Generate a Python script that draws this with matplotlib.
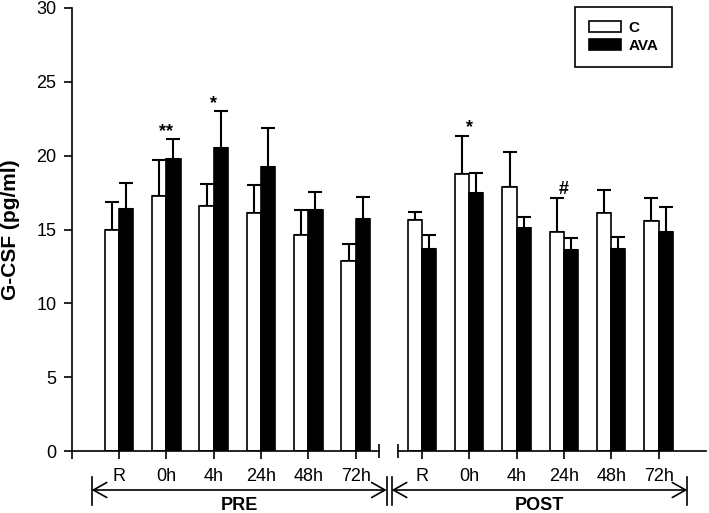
import matplotlib
matplotlib.use("Agg")
import matplotlib.pyplot as plt
from matplotlib.patches import Patch, FancyArrowPatch
from matplotlib.lines import Line2D
import numpy as np

plt.rcParams['font.family'] = ['Liberation Sans', 'DejaVu Sans']

# data (G-CSF, pg/ml)
times = ['R', '0h', '4h', '24h', '48h', '72h']
pre_c = [15.0, 17.3, 16.6, 16.1, 14.6, 12.9]
pre_c_err = [1.85, 2.4, 1.45, 1.9, 1.7, 1.1]
pre_ava = [16.4, 19.8, 20.5, 19.25, 16.3, 15.7]
pre_ava_err = [1.75, 1.35, 2.5, 2.6, 1.25, 1.5]
post_c = [15.65, 18.75, 17.85, 14.85, 16.15, 15.6]
post_c_err = [0.55, 2.6, 2.4, 2.25, 1.55, 1.55]
post_ava = [13.7, 17.45, 15.1, 13.6, 13.7, 14.8]
post_ava_err = [0.95, 1.35, 0.75, 0.8, 0.8, 1.7]

# significance marks: (time index, symbol, y)
pre_marks = [(1, '**', 21.3), (2, '*', 23.2)]
post_marks = [(1, '*', 21.6), (3, '#', 17.4)]

W, H = 709, 513
fig = plt.figure(figsize=(W / 100, H / 100), dpi=100)

def fx(px):
    return px / W

def fy(py):
    return 1 - py / H

ax1 = fig.add_axes([fx(71.7), fy(451), 307.6 / W, 443 / H])
ax2 = fig.add_axes([fx(398.3), fy(451), 307.6 / W, 443 / H])

bw = 0.3
lw = 1.2

def draw(ax, c, c_err, ava, ava_err, marks):
    x = np.arange(1, len(times) + 1)
    ax.bar(x - bw, c, bw, align='edge', color='white', edgecolor='black', linewidth=lw, zorder=2)
    ax.bar(x, ava, bw, align='edge', color='black', edgecolor='black', linewidth=lw, zorder=2)
    ax.errorbar(x - bw / 2, c, yerr=[np.zeros(len(c)), c_err], fmt='none', ecolor='black',
                elinewidth=1.5, capsize=5.2, capthick=1.5, zorder=1)
    ax.errorbar(x + bw / 2, ava, yerr=[np.zeros(len(ava)), ava_err], fmt='none', ecolor='black',
                elinewidth=1.5, capsize=5.2, capthick=1.5, zorder=1)
    for i, s, yv in marks:
        ax.text(x[i], yv, s, ha='center', va='baseline', fontsize=13, fontweight='bold')
    ax.set_ylim(0, 30)
    ax.spines['top'].set_visible(False)
    ax.spines['right'].set_visible(False)
    ax.spines['bottom'].set_linewidth(lw)
    ax.spines['left'].set_linewidth(lw)
    ax.tick_params(axis='both', direction='out', length=6, width=lw, labelsize=13, pad=5)
    ax.tick_params(axis='x', pad=6)
    ax.tick_params(which='minor', direction='inout', length=10, width=lw)

draw(ax1, pre_c, pre_c_err, pre_ava, pre_ava_err, pre_marks)
draw(ax2, post_c, post_c_err, post_ava, post_ava_err, post_marks)

ax1.set_xlim(0, 6.5)
ax1.set_xticks(range(0, 7))
ax1.set_xticklabels([''] + times)
ax1.set_xticks([6.5], minor=True)
ax1.set_yticks(range(0, 31, 5))
ax1.set_ylabel('G-CSF (pg/ml)', fontsize=15, fontweight='bold', labelpad=12)

ax2.set_xlim(0.5, 7)
ax2.set_xticks(range(1, 7))
ax2.set_xticklabels(times)
ax2.set_xticks([0.5], minor=True)
ax2.spines['left'].set_visible(False)
ax2.set_yticks([])

# legend
fig.legend(handles=[Patch(facecolor='white', edgecolor='black', linewidth=lw),
                    Patch(facecolor='black', edgecolor='black', linewidth=lw)],
           labels=['C', 'AVA'], loc='upper right', bbox_to_anchor=(fx(672), fy(7)),
           fancybox=False, edgecolor='black', framealpha=1,
           prop={'weight': 'bold', 'size': 11}, handlelength=2.1, handleheight=0.8,
           labelspacing=0.25, borderpad=0.9, handletextpad=0.5, borderaxespad=0)
fig.legends[0].get_frame().set_linewidth(lw)

# PRE / POST range arrows
for x0, x1, label in [(91.7, 386.7, 'PRE'), (391.7, 687.3, 'POST')]:
    fig.add_artist(FancyArrowPatch((fx(x0), fy(490)), (fx(x1), fy(490)),
                                   transform=fig.transFigure, arrowstyle='<->,head_length=0.8,head_width=0.45',
                                   mutation_scale=12, shrinkA=0, shrinkB=0, color='black', linewidth=lw))
    for xe in (x0, x1):
        fig.add_artist(Line2D([fx(xe), fx(xe)], [fy(477), fy(505)], transform=fig.transFigure,
                              color='black', linewidth=lw))
    fig.text(fx((x0 + x1) / 2), fy(505), label, ha='center', va='center', fontsize=13, fontweight='bold')

fig.savefig('out.png', dpi=100)
